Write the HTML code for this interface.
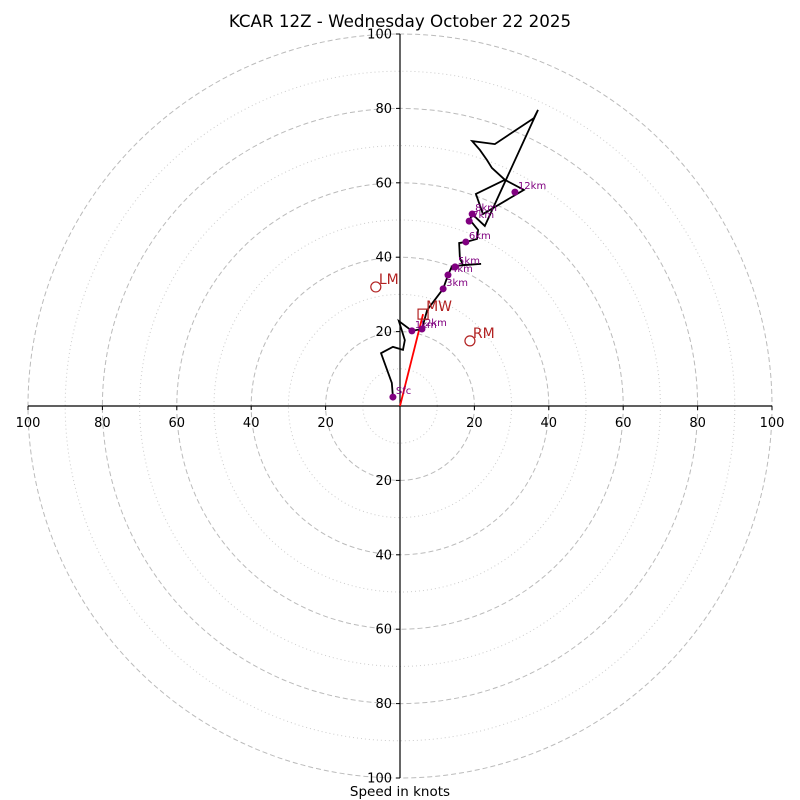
<!DOCTYPE html>
<html><head><meta charset="utf-8"><style>
body{margin:0;background:#fff}
svg{display:block;font-family:"DejaVu Sans","Liberation Sans",sans-serif}
</style></head><body>
<svg id="chart" width="800" height="800">
<text x="400" y="27" text-anchor="middle" font-size="16.7">KCAR 12Z - Wednesday October 22 2025</text>
<g id="rings"></g><g id="axes"></g><g id="series"></g>
<text x="400" y="796" text-anchor="middle" font-size="13.5">Speed in knots</text>
</svg>
<script>
const ringValues=[10,20,30,40,50,60,70,80,90,100];
const tickValues=[20,40,60,80,100];
const uWind=[-1.9,-2.2,-5.1,-1.9,0.8,1.3,-0.3,3.2,5.9,7.3,11.6,12.9,14.0,21.8,16.9,16.1,15.9,17.7,20.7,21.0,18.8,19.4,22.8,37.1,36.0,25.5,19.4,21.5,23.4,24.7,28.2,33.3,22.3,20.4,28.2];
const vWind=[2.4,6.2,14.2,15.9,15.1,17.7,22.8,20.2,20.7,25.8,31.5,35.2,37.6,38.2,37.9,39.8,43.8,44.1,44.9,47.3,50.0,51.6,48.4,79.6,77.4,70.4,71.2,68.8,66.1,64.0,60.8,58.1,51.6,57.0,60.8];
const markLabels=["Sfc","1km","2km","3km","4km","5km","6km","7km","8km","12km"];
const markU=[-1.9,3.2,5.9,11.6,12.9,14.8,17.7,18.6,19.4,30.9];
const markV=[2.4,20.2,20.7,31.5,35.2,37.4,44.1,49.7,51.6,57.5];
const motionLabels=["LM","RM","MW"];
const motionU=[-6.5,18.8,6.2];
const motionV=[32.0,17.5,24.7];
const cx=400,cy=406,k=3.72;
const X=u=>cx+u*k, Y=v=>cy-v*k;
const NS='http://www.w3.org/2000/svg';
function mk(t,a,p){const e=document.createElementNS(NS,t);for(const n in a)e.setAttribute(n,a[n]);p.appendChild(e);return e;}
const rings=document.getElementById('rings'),axes=document.getElementById('axes'),ser=document.getElementById('series');
ringValues.forEach(r=>{const c=mk('circle',{cx:cx,cy:cy,r:r*k,fill:'none',stroke:r%20?'#ccc':'#bbb','stroke-width':1,'stroke-dasharray':r%20?'1,3':'5,3'},rings);

});
let l=mk('line',{x1:X(-100),y1:cy,x2:X(100),y2:cy,stroke:'#000','stroke-width':1.2},axes);


l=mk('line',{x1:cx,y1:Y(100),x2:cx,y2:Y(-100),stroke:'#000','stroke-width':1.2},axes);


tickValues.forEach(t=>{[t,-t].forEach(s=>{
mk('line',{x1:X(s),y1:cy,x2:X(s),y2:cy+4,stroke:'#000'},axes);
let tx=mk('text',{x:X(s),y:cy+21,'text-anchor':'middle','font-size':13},axes);tx.textContent=t;


mk('line',{x1:cx-4,y1:Y(s),x2:cx,y2:Y(s),stroke:'#000'},axes);
let ty=mk('text',{x:cx-8,y:Y(s)+4.5,'text-anchor':'end','font-size':13},axes);ty.textContent=t;

});});
const rl=mk('line',{x1:X(0),y1:Y(0),x2:X(motionU[2]),y2:Y(motionV[2]),stroke:'#f00','stroke-width':1.8},ser);


const pl=mk('polyline',{points:uWind.map((u,i)=>X(u)+','+Y(vWind[i])).join(' '),fill:'none',stroke:'#000','stroke-width':1.8,'stroke-linejoin':'miter'},ser);


markLabels.forEach((s,i)=>{const c=mk('circle',{cx:X(markU[i]),cy:Y(markV[i]),r:3.5,fill:'#800080'},ser);


const t=mk('text',{x:X(markU[i])+3,y:Y(markV[i])-3,'font-size':10,fill:'#800080'},ser);t.textContent=s;

});
motionLabels.forEach((s,i)=>{const x=X(motionU[i]),y=Y(motionV[i]);let m;
if(s==='MW')m=mk('rect',{x:x-5,y:y-5,width:10,height:10,fill:'none',stroke:'#b22222','stroke-width':1.2},ser);
else m=mk('circle',{cx:x,cy:y,r:5,fill:'none',stroke:'#b22222','stroke-width':1.2},ser);


const t=mk('text',{x:x+3,y:y-3,'font-size':14,fill:'#b22222'},ser);t.textContent=s;

});
</script>
</body></html>
